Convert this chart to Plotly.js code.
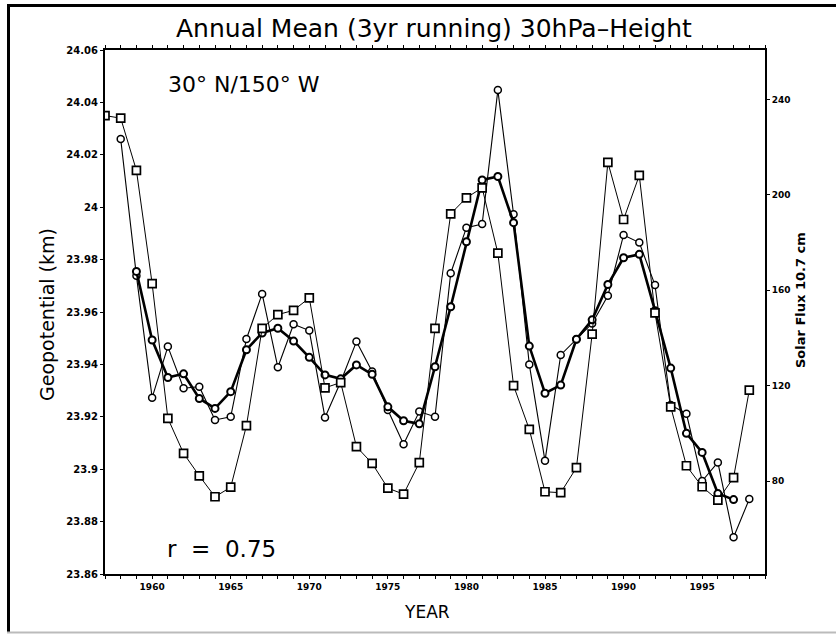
<!DOCTYPE html>
<html>
<head>
<meta charset="utf-8">
<script src="https://cdn.plot.ly/plotly-3.0.1.min.js"></script>
<style>
html,body{margin:0;padding:0;background:#fff;}
#chart{width:836px;height:634px;}
</style>
</head>
<body>
<div id="chart"></div>
<script>
// ---------------- DATA ----------------
const fluxYears = [1957,1958,1959,1960,1961,1962,1963,1964,1965,1966,1967,1968,1969,1970,1971,1972,1973,1974,1975,1976,1977,1978,1979,1980,1981,1982,1983,1984,1985,1986,1987,1988,1989,1990,1991,1992,1993,1994,1995,1996,1997,1998];
const solarFlux = [233.3,232.2,210.3,162.8,106.3,91.6,82.2,73.4,77.4,103.2,144.0,149.8,151.6,156.8,119.1,121.3,94.4,87.4,77.0,74.5,87.7,144.0,192.1,198.8,203.0,175.6,120.0,101.7,75.5,75.1,85.6,141.6,213.7,189.7,208.2,150.5,111.1,86.4,77.6,72.0,81.4,118.1];

const annualYears = [1958,1959,1960,1961,1962,1963,1964,1965,1966,1967,1968,1969,1970,1971,1972,1973,1974,1975,1976,1977,1978,1979,1980,1981,1982,1983,1984,1985,1986,1987,1988,1989,1990,1991,1992,1993,1994,1995,1996,1997,1998];
const annualHeight = [24.026,23.9738,23.9273,23.9468,23.9309,23.9315,23.9188,23.920,23.9497,23.9669,23.9389,23.9553,23.9529,23.9197,23.9334,23.9487,23.9373,23.9226,23.9095,23.922,23.920,23.9748,23.9922,23.9936,24.0447,23.9973,23.940,23.9032,23.9436,23.9496,23.9556,23.9662,23.9894,23.9865,23.9703,23.9245,23.9212,23.8955,23.9026,23.874,23.8886];

const runningYears = [1959,1960,1961,1962,1963,1964,1965,1966,1967,1968,1969,1970,1971,1972,1973,1974,1975,1976,1977,1978,1979,1980,1981,1982,1983,1984,1985,1986,1987,1988,1989,1990,1991,1992,1993,1994,1995,1996,1997];
const runningHeight = [23.9755,23.9493,23.935,23.9364,23.927,23.9232,23.9296,23.9456,23.952,23.9538,23.9489,23.9427,23.936,23.9345,23.9398,23.9362,23.9238,23.9185,23.9173,23.9391,23.962,23.9868,24.0104,24.0117,23.9941,23.947,23.929,23.9321,23.9496,23.957,23.9705,23.9807,23.982,23.9605,23.9386,23.9137,23.9064,23.8907,23.8884];

const xTickVals = [1960,1965,1970,1975,1980,1985,1990,1995];
const xTickText = ['1960','1965','1970','1975','1980','1985','1990','1995'];
const yTickVals = [23.86,23.88,23.9,23.92,23.94,23.96,23.98,24,24.02,24.04,24.06];
const yTickText = ['23.86','23.88','23.9','23.92','23.94','23.96','23.98','24','24.02','24.04','24.06'];
const y2TickVals = [80,120,160,200,240];
const y2TickText = ['80','120','160','200','240'];

const titleText = 'Annual Mean (3yr running) 30hPa\u2013Height';
const locationText = '30\u00b0 N/150\u00b0 W';
const corrText = 'r  =  0.75';
const yTitle = 'Geopotential (km)';
const y2Title = 'Solar Flux 10.7 cm';
const xTitle = 'YEAR';

// ---------------- LAYOUT ----------------
const W = 836, H = 634, L = 105, R = 71, T = 50, B = 60;
const pw = W - L - R, ph = H - T - B;
const px = x => (x - L) / pw;
const py = y => 1 - (y - T) / ph;

const tickFont = {family: 'DejaVu Sans', size: 10, color: '#000', weight: 'bold'};
const textFont = {family: 'DejaVu Sans', color: '#000'};

const traces = [
  {
    x: fluxYears, y: solarFlux, yaxis: 'y2', type: 'scatter', mode: 'lines+markers',
    line: {color: '#000', width: 1},
    marker: {symbol: 'square', size: 8, color: '#fff', line: {color: '#000', width: 1.7}},
    hoverinfo: 'skip'
  },
  {
    x: annualYears, y: annualHeight, yaxis: 'y', type: 'scatter', mode: 'lines+markers',
    line: {color: '#000', width: 1.1},
    marker: {symbol: 'circle', size: 7, color: '#fff', line: {color: '#000', width: 1.5}},
    hoverinfo: 'skip'
  },
  {
    x: runningYears, y: runningHeight, yaxis: 'y', type: 'scatter', mode: 'lines+markers',
    line: {color: '#000', width: 2.6},
    marker: {symbol: 'circle', size: 7, color: '#fff', line: {color: '#000', width: 2}},
    hoverinfo: 'skip'
  }
];

const layout = {
  width: W, height: H,
  margin: {l: L, r: R, t: T, b: B, pad: 0},
  paper_bgcolor: '#fff', plot_bgcolor: '#fff',
  showlegend: false,
  xaxis: {
    range: [1957, 1999], tickvals: xTickVals, ticktext: xTickText,
    ticks: 'outside', ticklen: 3, tickwidth: 1, tickcolor: '#000',
    showline: true, linewidth: 2, linecolor: '#000', mirror: 'allticks',
    showgrid: false, zeroline: false, tickfont: Object.assign({}, tickFont, {size: 9}),
    minor: {dtick: 1, tick0: 1957, ticks: 'outside', ticklen: 2, tickwidth: 1, tickcolor: '#000', showgrid: false}
  },
  yaxis: {
    range: [23.86, 24.06], tickvals: yTickVals, ticktext: yTickText,
    ticks: 'outside', ticklen: 3, tickwidth: 1, tickcolor: '#000',
    showline: true, linewidth: 2, linecolor: '#000',
    showgrid: false, zeroline: false, tickfont: tickFont
  },
  yaxis2: {
    overlaying: 'y', side: 'right',
    range: [41, 260.8], tickvals: y2TickVals, ticktext: y2TickText,
    ticks: 'outside', ticklen: 3, tickwidth: 1, tickcolor: '#000',
    showline: true, linewidth: 2, linecolor: '#000',
    showgrid: false, zeroline: false, tickfont: Object.assign({}, tickFont, {size: 9})
  },
  annotations: [
    {text: titleText, xref: 'paper', yref: 'paper', x: px(434), y: py(29), xanchor: 'center', yanchor: 'middle', showarrow: false, font: Object.assign({}, textFont, {size: 25})},
    {text: locationText, xref: 'paper', yref: 'paper', x: px(166), y: py(84), xanchor: 'left', yanchor: 'middle', showarrow: false, font: Object.assign({}, textFont, {size: 22})},
    {text: corrText, xref: 'paper', yref: 'paper', x: px(165), y: py(549), xanchor: 'left', yanchor: 'middle', showarrow: false, font: Object.assign({}, textFont, {size: 23})},
    {text: yTitle, xref: 'paper', yref: 'paper', x: px(47), y: py(315), xanchor: 'center', yanchor: 'middle', textangle: -90, showarrow: false, font: Object.assign({}, textFont, {size: 19})},
    {text: y2Title, xref: 'paper', yref: 'paper', x: px(800), y: py(300), xanchor: 'center', yanchor: 'middle', textangle: -90, showarrow: false, font: Object.assign({}, textFont, {size: 13, weight: 'bold'})},
    {text: xTitle, xref: 'paper', yref: 'paper', x: px(427), y: py(612), xanchor: 'center', yanchor: 'middle', showarrow: false, font: Object.assign({}, textFont, {size: 17})}
  ],
  shapes: [
    {type: 'line', xref: 'paper', yref: 'paper', x0: px(8.5), x1: px(8.5), y0: py(4), y1: py(633), line: {color: '#000', width: 3}},
    {type: 'line', xref: 'paper', yref: 'paper', x0: px(7), x1: px(836), y0: py(5.5), y1: py(5.5), line: {color: '#000', width: 3}},
    {type: 'line', xref: 'paper', yref: 'paper', x0: px(7), x1: px(836), y0: py(632.5), y1: py(632.5), line: {color: '#bbb', width: 2}}
  ]
};

Plotly.newPlot('chart', traces, layout, {staticPlot: true, displayModeBar: false});
</script>
</body>
</html>
